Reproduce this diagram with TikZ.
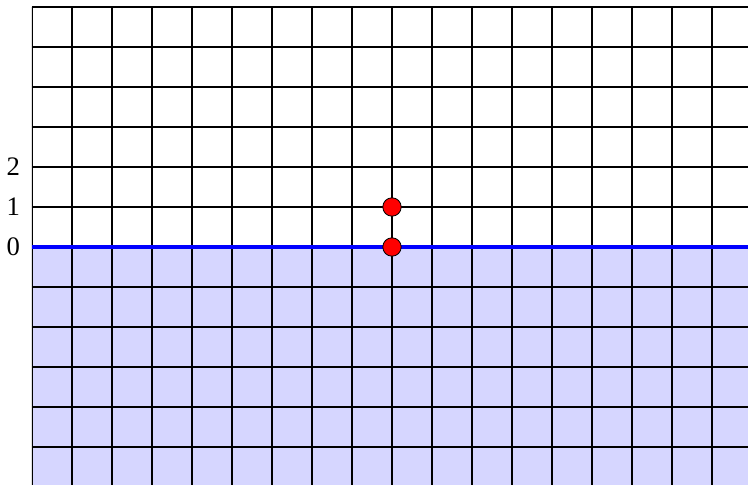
\documentclass[tikz,border=0pt]{standalone}
\usepackage{fontspec}
\setmainfont{Liberation Serif}
\definecolor{lav}{RGB}{214,214,255}
\begin{document}
\begin{tikzpicture}[
  gridline/.style={black,line width=0.95pt},
  dot/.style={circle,fill=red,draw=black,line width=0.6pt,minimum size=0.46cm,inner sep=0pt},
  lbl/.style={font=\fontsize{19}{22}\selectfont,inner sep=0pt}
]
\useasboundingbox (-9.8,-5.95) rectangle (8.9,6.175);
\begin{scope}
\clip (-9,-5.95) rectangle (8.9,6.0);
\fill[lav] (-9,-5.95) rectangle (8.9,0);
\draw[gridline] (-9,-7) grid (10,6);
\end{scope}
\draw[blue,line width=2.8pt] (-9,0) -- (8.9,0);
\node[dot] (p0) at (0,0) {};
\node[dot] (p1) at (0,1) {};
\node[lbl] (l0) at (-9.47,0) {0};
\node[lbl] (l1) at (-9.47,1) {1};
\node[lbl] (l2) at (-9.47,2) {2};
\end{tikzpicture}
\end{document}
